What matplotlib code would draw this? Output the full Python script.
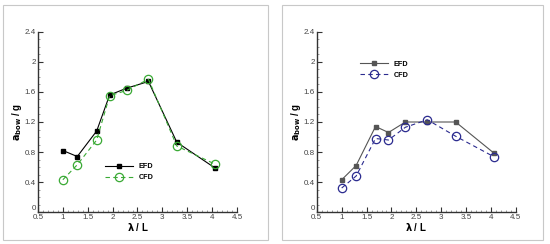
import matplotlib
matplotlib.use("Agg")
import matplotlib.pyplot as plt
from matplotlib.patches import Rectangle
from matplotlib.ticker import MultipleLocator

# wave length ratio lambda / L
lam = [1.0, 1.29, 1.68, 1.94, 2.28, 2.72, 3.29, 4.05]

# left panel
efd_a = [0.82, 0.74, 1.08, 1.56, 1.65, 1.74, 0.93, 0.59]
cfd_a = [0.43, 0.63, 0.96, 1.55, 1.62, 1.77, 0.88, 0.64]

# right panel
efd_b = [0.43, 0.62, 1.14, 1.06, 1.20, 1.20, 1.20, 0.79]
cfd_b = [0.32, 0.48, 0.98, 0.96, 1.13, 1.23, 1.01, 0.74]

xticks = [0.5, 1, 1.5, 2, 2.5, 3, 3.5, 4, 4.5]
yticks = [0, 0.4, 0.8, 1.2, 1.6, 2.0, 2.4]

plt.rcParams['font.family'] = ['Liberation Sans', 'DejaVu Sans']

fig = plt.figure(figsize=(5.5, 2.44), dpi=100)

# grey frames around each sub-figure
for x0, w in [(3, 265), (282, 261)]:
    fig.patches.append(Rectangle((x0 / 550, 4 / 244), w / 550, 235 / 244,
                                 transform=fig.transFigure, fill=False,
                                 edgecolor="#c8c8c8", linewidth=0.8))

panels = [
    (0.069, efd_a, cfd_a, "black", "#3aaa35", (0.32, 0.29)),
    (0.576, efd_b, cfd_b, "#555555", "#2b2b8f", (0.2, 0.86)),
]

for left, efd, cfd, c_efd, c_cfd, leg_pos in panels:
    ax = fig.add_axes([left, 0.131, 0.362, 0.738])
    ax.plot(lam, efd, color=c_efd, linewidth=0.8, marker="s", markersize=3.4,
            label="EFD")
    ax.plot(lam, cfd, color=c_cfd, linewidth=0.8, linestyle=(0, (4, 3)),
            marker="o", markersize=6, markerfacecolor="none",
            markeredgewidth=0.9, label="CFD")

    ax.set_xlim(0.5, 4.5)
    ax.set_ylim(0, 2.4)
    ax.set_xticks(xticks)
    ax.set_xticklabels([f"{v:g}" for v in xticks])
    ax.set_yticks(yticks)
    ax.set_yticklabels([f"{v:g}" for v in yticks])
    ax.xaxis.set_minor_locator(MultipleLocator(0.1))
    ax.yaxis.set_minor_locator(MultipleLocator(0.1))

    for s in ["top", "right"]:
        ax.spines[s].set_visible(False)
    for s in ["left", "bottom"]:
        ax.spines[s].set_linewidth(1.0)
        ax.spines[s].set_color("#333333")

    ax.tick_params(which="major", direction="in", length=3.5, width=0.8,
                   labelsize=5.8, labelcolor="#444444", color="#333333", pad=1.5)
    ax.tick_params(which="minor", direction="in", length=1.6, width=0.5,
                   color="#777777")
    # lift the "0" label off the corner so it does not run into "0.5"
    ax.get_yticklabels()[0].set_verticalalignment("bottom")

    ax.set_xlabel(r"$\mathbf{\lambda}$ / L", fontsize=7, fontweight="bold",
                  labelpad=0)
    ax.set_ylabel(r"$\mathbf{a_{bow}}$ / g", fontsize=7, fontweight="bold",
                  labelpad=0.5)

    leg = ax.legend(loc="upper left", bbox_to_anchor=leg_pos, frameon=False,
                    handlelength=3.8, borderpad=0, labelspacing=0.5,
                    handletextpad=0.8, prop={"weight": "bold", "size": 5.2})

fig.savefig("out.png", dpi=100)
